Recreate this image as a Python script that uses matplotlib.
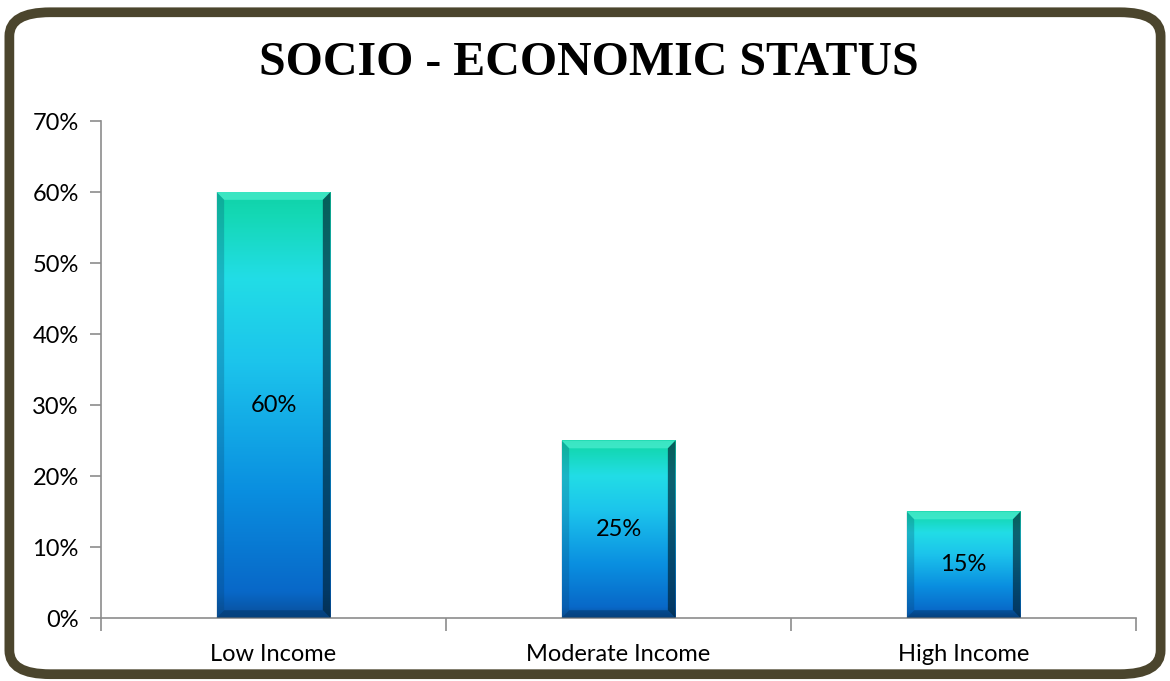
import numpy as np
import matplotlib
matplotlib.use("Agg")
import matplotlib.pyplot as plt
from matplotlib.colors import LinearSegmentedColormap
from matplotlib.patches import FancyBboxPatch, Polygon
from matplotlib.ticker import PercentFormatter

categories = ["Low Income", "Moderate Income", "High Income"]
values = [60, 25, 15]
yticks = [0, 10, 20, 30, 40, 50, 60, 70]

fig = plt.figure(figsize=(11.7, 6.81), dpi=100)
fig.patch.set_facecolor("white")

# rounded frame
frame = FancyBboxPatch((0.008, 0.010), 0.984, 0.972,
                       boxstyle="round,pad=0,rounding_size=0.035",
                       transform=fig.transFigure, facecolor="white",
                       edgecolor="#4b452d", linewidth=7, zorder=-1)
fig.patches.append(frame)

ax = fig.add_axes([0.0863, 0.0925, 0.8847, 0.7298])
ax.set_facecolor("none")
ax.set_zorder(1)

grad = LinearSegmentedColormap.from_list(
    "bar", [(0.0, "#0a4f9a"), (0.06, "#0868c8"), (0.3, "#0a8fe0"),
            (0.6, "#1cc4ec"), (0.8, "#22dde6"), (0.95, "#14d8b4"),
            (1.0, "#10d2a8")])

font = ["Lato", "DejaVu Sans"]
width = 0.33
bev_x = 0.022
bev_y = 1.1
for i, v in enumerate(values):
    x0, x1 = i - width / 2, i + width / 2
    img = np.linspace(0, 1, 256).reshape(-1, 1)
    ax.imshow(img, cmap=grad, origin="lower", aspect="auto",
              extent=[x0, x1, 0, v], zorder=2)
    # bevel edges
    ax.add_patch(Polygon([[x0, v], [x1, v], [x1 - bev_x, v - bev_y], [x0 + bev_x, v - bev_y]],
                         closed=True, facecolor="#5ff5d8", alpha=0.55, edgecolor="none", zorder=3))
    ax.add_patch(Polygon([[x1, v], [x1, 0], [x1 - bev_x, bev_y], [x1 - bev_x, v - bev_y]],
                         closed=True, facecolor="#002030", alpha=0.65, edgecolor="none", zorder=3))
    ax.add_patch(Polygon([[x0, v], [x0, 0], [x0 + bev_x, bev_y], [x0 + bev_x, v - bev_y]],
                         closed=True, facecolor="#06406a", alpha=0.25, edgecolor="none", zorder=3))
    ax.add_patch(Polygon([[x0, 0], [x1, 0], [x1 - bev_x, bev_y], [x0 + bev_x, bev_y]],
                         closed=True, facecolor="#02305a", alpha=0.45, edgecolor="none", zorder=3))
    ax.text(i, v / 2, f"{v}%", ha="center", va="center", fontsize=17,
            family=font, color="black", zorder=4)

ax.set_xlim(-0.5, 2.5)
ax.set_ylim(0, 70)
ax.set_yticks(yticks)
ax.yaxis.set_major_formatter(PercentFormatter(decimals=0))
ax.set_xticks([-0.5, 0.5, 1.5, 2.5])
ax.set_xticklabels([])
ax.set_xticks([0, 1, 2], minor=True)
ax.set_xticklabels(categories, minor=True)
ax.tick_params(axis="x", which="minor", length=0, pad=19, labelsize=17)
ax.tick_params(axis="x", which="major", length=9, color="#8c8c8c", width=1.2)
ax.tick_params(axis="y", length=8, color="#8c8c8c", width=1.2, labelsize=17, pad=8)
for lab in ax.get_xticklabels(minor=True) + ax.get_yticklabels():
    lab.set_family(font)
for s in ["top", "right"]:
    ax.spines[s].set_visible(False)
for s in ["left", "bottom"]:
    ax.spines[s].set_color("#8c8c8c")
    ax.spines[s].set_linewidth(1.2)

fig.text(0.503, 0.908, "SOCIO - ECONOMIC STATUS", ha="center", va="center",
         fontsize=34.5, fontweight="bold", family="Liberation Serif")

fig.savefig("out.png", dpi=100)
